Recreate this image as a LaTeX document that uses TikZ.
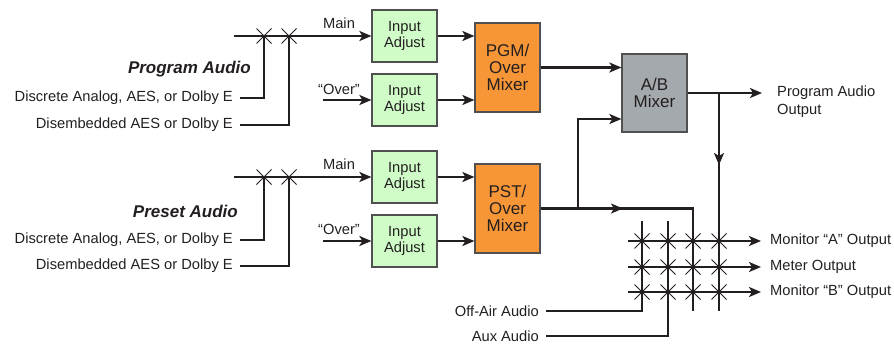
\documentclass[tikz,border=0pt]{standalone}
\usepackage{fontspec}
\setmainfont{Liberation Sans}
\usepackage{tikz}
\usepackage{xcolor}
\usetikzlibrary{arrows.meta,shapes.misc}
\definecolor{adjgreen}{RGB}{208,252,200}
\definecolor{mixorange}{RGB}{247,150,55}
\definecolor{abgray}{RGB}{164,169,173}
\definecolor{edgegray}{RGB}{80,80,80}
\definecolor{ink}{RGB}{35,31,32}
\tikzset{
  sig/.style={line width=2.2pt,draw=ink},
  sigarrow/.style={sig,-{Stealth[length=12pt,width=10pt,inset=3pt]}},
  adjbox/.style={draw=edgegray,line width=1.2pt,fill=adjgreen,minimum width=65pt,minimum height=52pt,
    align=center,inner sep=0pt,text=ink,font=\fontsize{14.7}{16}\selectfont},
  mixbox/.style={draw=edgegray,line width=1.2pt,fill=mixorange,minimum width=65pt,minimum height=89pt,
    align=center,inner sep=0pt,text=ink,font=\fontsize{17}{17.3}\selectfont},
  lbl/.style={inner sep=0pt,text=ink,font=\fontsize{14.7}{18}\selectfont},
  grouptitle/.style={inner sep=0pt,text=ink,font=\fontsize{17}{20}\selectfont\bfseries\itshape},
  xmark/.style={draw=ink,cross out,line width=1pt,minimum size=14pt,inner sep=0pt},
}

\begin{document}
\begin{tikzpicture}[x=1pt,y=-1pt]
  \useasboundingbox (0,0) rectangle (894,343);
  % program path
  \node[adjbox] (ia1) at (404.5,36) {Input\\Adjust};
  \node[adjbox] (ia2) at (404.5,100) {Input\\Adjust};
  \node[mixbox] (pgm) at (507.5,67.5) {PGM/\\Over\\Mixer};
  \node[lbl] (mainA) at (339,23) {Main};
  \node[lbl] (overA) at (339,89) {“Over”};
  \node[grouptitle,anchor=east] (pgmtitle) at (251,69) {Program Audio};
  \node[lbl,anchor=east] (srcA1) at (233,98) {Discrete Analog, AES, or Dolby E};
  \node[lbl,anchor=east] (srcA2) at (233,125) {Disembedded AES or Dolby E};
  \coordinate (busA) at (234,36);
  \coordinate (overAin) at (323,100);
  \node[xmark] (xa1) at (264,36) {};
  \node[xmark] (xa2) at (289,36) {};
  \draw[sig,shorten <=7pt] (srcA1.east) -| (xa1.center);
  \draw[sig,shorten <=7pt] (srcA2.east) -| (xa2.center);
  \draw[sigarrow] (busA) -- (ia1.west);
  \draw[sigarrow] (overAin) -- (ia2.west);
  \draw[sigarrow] (ia1.east) -- (ia1.east -| pgm.west);
  \draw[sigarrow] (ia2.east) -- (ia2.east -| pgm.west);

  % preset path
  \node[adjbox] (ia3) at (404.5,177) {Input\\Adjust};
  \node[adjbox] (ia4) at (404.5,241) {Input\\Adjust};
  \node[mixbox] (pst) at (507.5,208.5) {PST/\\Over\\Mixer};
  \node[lbl] (mainB) at (339,164) {Main};
  \node[lbl] (overB) at (339,229) {“Over”};
  \node[grouptitle,anchor=east] (psttitle) at (238,211) {Preset Audio};
  \node[lbl,anchor=east] (srcB1) at (233,240) {Discrete Analog, AES, or Dolby E};
  \node[lbl,anchor=east] (srcB2) at (233,266) {Disembedded AES or Dolby E};
  \coordinate (busB) at (234,177);
  \coordinate (overBin) at (323,241);
  \node[xmark] (xb1) at (264,177) {};
  \node[xmark] (xb2) at (289,177) {};
  \draw[sig,shorten <=7pt] (srcB1.east) -| (xb1.center);
  \draw[sig,shorten <=7pt] (srcB2.east) -| (xb2.center);
  \draw[sigarrow] (busB) -- (ia3.west);
  \draw[sigarrow] (overBin) -- (ia4.west);
  \draw[sigarrow] (ia3.east) -- (ia3.east -| pst.west);
  \draw[sigarrow] (ia4.east) -- (ia4.east -| pst.west);

  % A/B mixer
  \node[mixbox,fill=abgray,minimum height=78pt] (ab) at (654.5,93) {A/B\\Mixer};
  \node[lbl,anchor=west,align=left] (pgmout) at (777,102) {Program Audio\\Output};
  \coordinate (abend) at (762,93);
  \coordinate (absplit) at (719,93);
  \coordinate (abdown) at (719,165);
  \coordinate (pstsplit) at (578,208.5);
  \coordinate (pstarrow) at (623,208.5);
  \draw[sigarrow] (pgm.east) -- (pgm.east -| ab.west);
  \draw[sigarrow] (ab.east) -- (abend);
  \draw[sigarrow] (pstsplit) |- ([yshift=-26pt]ab.west);

  % monitor matrix
  \node[lbl,anchor=west] (mona) at (770,241) {Monitor “A” Output};
  \node[lbl,anchor=west] (meter) at (770,267) {Meter Output};
  \node[lbl,anchor=west] (monb) at (770,292) {Monitor “B” Output};
  \node[lbl,anchor=east] (offair) at (539,311) {Off-Air Audio};
  \node[lbl,anchor=east] (aux) at (539,336) {Aux Audio};
  \coordinate (c1top) at (642,221);
  \coordinate (c2top) at (668,221);
  \coordinate (c3end) at (693,311);
  \coordinate (c4end) at (719,311);
  \draw[sig,shorten >=7pt] (c1top) |- (offair.east);
  \draw[sig,shorten >=7pt] (c2top) |- (aux.east);
  \draw[sig] (pst.east) -| (c3end);
  \draw[sigarrow] (pst.east) -- (pstarrow);
  \draw[sig] (absplit) -- (c4end);
  \draw[sigarrow] (absplit) -- (abdown);
  \foreach \r/\y/\out in {1/241/mona,2/267/meter,3/292/monb}{
    \coordinate (row\r) at (628,\y);
    \draw[sigarrow,shorten >=9pt] (row\r) -- (\out.west |- row\r);
  }
  \foreach \c/\x in {1/642,2/668,3/693,4/719}
    \foreach \r/\y in {1/241,2/267,3/292}
      \node[xmark] (g\c\r) at (\x,\y) {};
\end{tikzpicture}
\end{document}
